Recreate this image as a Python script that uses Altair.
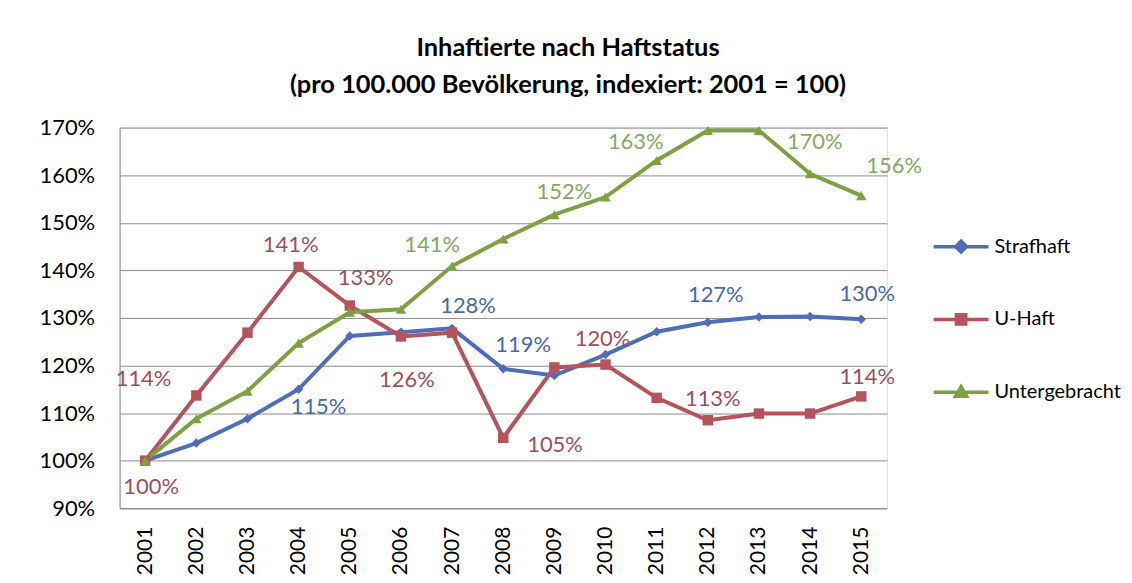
import altair as alt
import pandas as pd

years = [str(y) for y in range(2001, 2016)]
strafhaft = [100, 103.7, 108.8, 115.0, 126.2, 127.0, 127.8, 119.3, 117.9, 122.3, 127.1, 129.1, 130.2, 130.3, 129.7]
uhaft = [100, 113.7, 126.9, 140.7, 132.6, 126.1, 126.9, 104.8, 119.6, 120.2, 113.2, 108.5, 109.9, 109.9, 113.5]
untergebracht = [100, 108.8, 114.6, 124.7, 131.2, 131.8, 140.9, 146.6, 151.7, 155.4, 163.1, 169.4, 169.4, 160.3, 155.7]
series_names = ["Strafhaft", "U-Haft", "Untergebracht"]
y_ticks = [90, 100, 110, 120, 130, 140, 150, 160, 170]

# data labels: series, year, shown text
label_series = ["Strafhaft"] * 5 + ["U-Haft"] * 9 + ["Untergebracht"] * 5
label_years = ["2004", "2007", "2008", "2012", "2015",
               "2001", "2002", "2004", "2005", "2006", "2008", "2010", "2012", "2015",
               "2007", "2009", "2011", "2013", "2015"]
label_texts = ["115%", "128%", "119%", "127%", "130%",
               "100%", "114%", "141%", "133%", "126%", "105%", "120%", "113%", "114%",
               "141%", "152%", "163%", "170%", "156%"]
# label pixel offsets (style)
label_dx = [20, 16, 20, 8, 6,
            6, -53, -8, 16, 6, 52, -3, 5, 6,
            -20, 10, -21, 56, 33]
label_dy = [18, -22, -24, -27, -25,
            26, -16, -22, -28, 44, 7, -26, -21, -19,
            -21, -23, -18, 12, -30]

line_colors = ["#4F6EBA", "#B5545C", "#7FA143"]
text_colors = ["#4A68AE", "#A04E5E", "#86A864"]
marker_shapes = ["diamond", "square", "triangle-up"]
marker_sizes = [90, 110, 110]
legend_paths = [
    "M-1,0H1M0,-0.2L0.2,0L0,0.2L-0.2,0Z",
    "M-1,0H1M-0.17,-0.17H0.17V0.17H-0.17Z",
    "M-1,0H1M0,-0.2L0.2,0.15H-0.2Z",
]

FONT = "Lato"

rows = []
for name, vals in zip(series_names, [strafhaft, uhaft, untergebracht]):
    for yr, v in zip(years, vals):
        rows.append({"series": name, "year": yr, "value": v})
df = pd.DataFrame(rows)

lab = pd.DataFrame({"series": label_series, "year": label_years, "text": label_texts})
lab = lab.merge(df, on=["series", "year"], how="left")

x_enc = alt.X("year:O", title=None, sort=years,
              scale=alt.Scale(domain=years, padding=0.5),
              axis=alt.Axis(labelAngle=270, labelFont=FONT, labelFontSize=21,
                            labelColor="black", ticks=False, domain=True,
                            domainColor="#8c8c8c", labelPadding=18, grid=False))
y_enc = alt.Y("value:Q", title=None,
              scale=alt.Scale(domain=[90, 170], nice=False, zero=False),
              axis=alt.Axis(values=y_ticks, labelExpr="datum.value + '%'",
                            labelFont=FONT, labelFontSize=22, labelColor="black",
                            ticks=False, domain=True, domainColor="#8c8c8c",
                            gridColor="#8c8c8c", gridWidth=1, labelPadding=25))

layers = []
for i, name in enumerate(series_names):
    sub = alt.Chart(df).transform_filter(alt.datum.series == name)
    layers.append(sub.mark_line(color=line_colors[i], strokeWidth=4).encode(x=x_enc, y=y_enc))
for i, name in enumerate(series_names):
    sub = alt.Chart(df).transform_filter(alt.datum.series == name)
    layers.append(sub.mark_point(filled=True, opacity=1, color=line_colors[i],
                                 shape=marker_shapes[i], size=marker_sizes[i]).encode(x=x_enc, y=y_enc))

for i in range(len(lab)):
    ci = series_names.index(lab.loc[i, "series"])
    layers.append(
        alt.Chart(lab.iloc[[i]]).mark_text(
            font=FONT, fontSize=22, color=text_colors[ci], align="center",
            baseline="middle", dx=label_dx[i], dy=label_dy[i]
        ).encode(x=x_enc, y=y_enc, text="text:N")
    )

leg_props = dict(orient="none", legendX=815, legendY=90, title=None,
                 symbolSize=3025, symbolStrokeWidth=3.5, labelFont=FONT,
                 labelFontSize=20, labelFontWeight="normal", labelColor="black",
                 rowPadding=31, labelOffset=4, symbolOpacity=1)
legend_layer = alt.Chart(pd.DataFrame({"series": series_names})).mark_point(
    filled=True, strokeWidth=3.5, opacity=1
).encode(
    fill=alt.Fill("series:N", scale=alt.Scale(domain=series_names, range=line_colors),
                  legend=alt.Legend(**leg_props)),
    stroke=alt.Stroke("series:N", scale=alt.Scale(domain=series_names, range=line_colors),
                      legend=alt.Legend(**leg_props)),
    shape=alt.Shape("series:N", scale=alt.Scale(domain=series_names, range=legend_paths),
                    legend=alt.Legend(**leg_props)),
).transform_filter("false")
layers.append(legend_layer)

chart = alt.layer(*layers).properties(
    width=770, height=382,
    title=alt.TitleParams(
        text=["Inhaftierte nach Haftstatus",
              "(pro 100.000 Bevölkerung, indexiert: 2001 = 100)"],
        font=FONT, fontSize=25.5, fontWeight="bold", color="black",
        anchor="middle", frame="group", dx=65, offset=18, lineHeight=37),
    autosize=alt.AutoSizeParams(type="none"),
    padding={"left": 112, "top": 119, "right": 238, "bottom": 70},
).configure_view(stroke=None).configure(background="white")

chart.save("out.html", embed_options={"renderer": "svg", "actions": False})
